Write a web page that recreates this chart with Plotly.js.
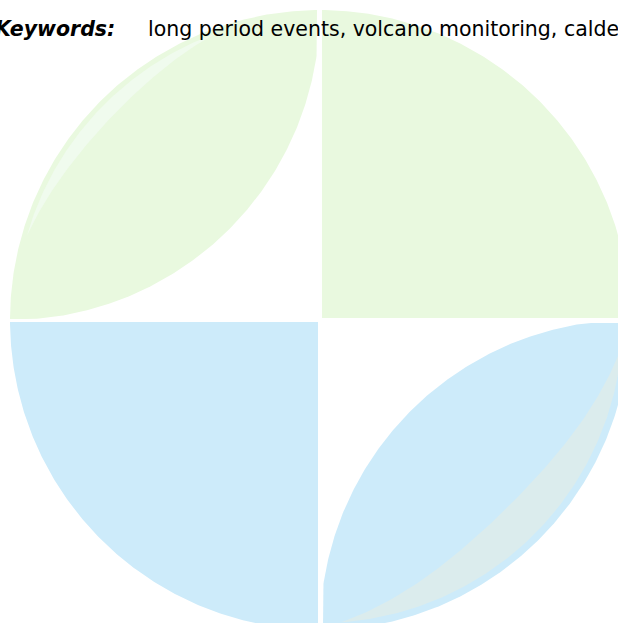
<!DOCTYPE html>
<html><head><meta charset="utf-8">
<script src="https://cdn.plot.ly/plotly-3.0.1.min.js"></script>
<style>html,body{margin:0;padding:0;background:#fff;overflow:hidden}</style>
</head><body><div id="chart" style="width:618px;height:623px"></div>
<script>
// ---- data ----
const logoParts = ['upper-right quarter', 'lower-left quarter', 'upper-left leaf', 'lower-right leaf', 'upper leaf highlight', 'lower leaf shade'];
const logoCircle = [320, 320, 310];          // centre x, centre y, radius (in chart units)
const keywordLabel = ['Keywords:'];
const keywordList = ['long period events', 'volcano monitoring', 'caldera'];

// ---- styles ----
const green = '#e9f9df', blue = '#cdebfa', greenLight = '#f0fbee', blueShade = '#dbeced';
const gap = 2;

const [cx, cy, R] = logoCircle;
function arc(x0, y0, r, a0, a1, n) {
  const xs = [], ys = [];
  for (let i = 0; i <= n; i++) {
    const a = (a0 + (a1 - a0) * i / n) * Math.PI / 180;
    xs.push(x0 + r * Math.cos(a)); ys.push(y0 + r * Math.sin(a));
  }
  return [xs, ys];
}
function clamp(xs, ys, fx, fy) { return [xs.map(fx), ys.map(fy)]; }

const traces = [];
function add(xs, ys, color, name) {
  traces.push({type: 'scatter', x: xs, y: ys, mode: 'lines', fill: 'toself', fillcolor: color,
    line: {width: 0, color: color}, hoverinfo: 'skip', name: name, showlegend: false});
}

// upper-right quarter
{
  let [xs, ys] = arc(cx, cy, R, -90, 0, 200);
  [xs, ys] = clamp(xs, ys, v => Math.max(cx + gap, v), v => Math.min(cy - gap, v));
  add([cx + gap, ...xs, cx + gap], [cy - gap, ...ys, cy - gap], green, logoParts[0]);
}
// lower-left quarter
{
  let [xs, ys] = arc(cx, cy, R, 90, 180, 200);
  [xs, ys] = clamp(xs, ys, v => Math.min(cx - gap, v), v => Math.max(cy + gap, v));
  add([cx - gap, ...xs, cx - gap], [cy + gap, ...ys, cy + gap], blue, logoParts[1]);
}
// upper-left leaf
{
  const [ox, oy] = arc(cx, cy, R, 180, 270, 200);
  const [ix, iy] = arc(cx - R, cy - R, R, 0, 90, 200);
  const [xs, ys] = clamp([...ox, ...ix], [...oy, ...iy], v => Math.min(cx - 3, v), v => Math.min(cy - 1, v));
  add(xs, ys, green, logoParts[2]);
}
// lower-right leaf
{
  const [ox, oy] = arc(cx, cy, R, 0, 90, 200);
  const [ix, iy] = arc(cx + R, cy + R, R, 180, 270, 200);
  const [xs, ys] = clamp([...ox, ...ix], [...oy, ...iy], v => Math.max(cx + 3, v), v => Math.max(cy + 3, v));
  add(xs, ys, blue, logoParts[3]);
}
// crescent helper
function crescent(a0, a1, rOut, w, color, name) {
  const n = 120, xs = [], ys = [];
  for (let i = 0; i <= n; i++) {
    const a = (a0 + (a1 - a0) * i / n) * Math.PI / 180;
    xs.push(cx + rOut * Math.cos(a)); ys.push(cy + rOut * Math.sin(a));
  }
  for (let i = n; i >= 0; i--) {
    const t = i / n, a = (a0 + (a1 - a0) * t) * Math.PI / 180;
    const r = rOut - w * Math.sin(Math.PI * t);
    xs.push(cx + r * Math.cos(a)); ys.push(cy + r * Math.sin(a));
  }
  add(xs, ys, color, name);
}
crescent(196, 250, 305, 14, greenLight, logoParts[4]);
crescent(5, 86, 303, 38, blueShade, logoParts[5]);

const layout = {
  width: 618, height: 623, margin: {l: 0, r: 0, t: 0, b: 0},
  paper_bgcolor: '#fff', plot_bgcolor: '#fff',
  xaxis: {range: [0, 618], visible: false, fixedrange: true},
  yaxis: {range: [623, 0], visible: false, fixedrange: true},
  showlegend: false,
  annotations: [
    {x: 117, y: 29, xref: 'x', yref: 'y', xanchor: 'right', yanchor: 'middle', showarrow: false,
     text: '<b><i>' + keywordLabel[0] + '</i></b>', font: {family: 'DejaVu Sans', size: 20.5, color: '#000'}},
    {x: 146, y: 29, xref: 'x', yref: 'y', xanchor: 'left', yanchor: 'middle', showarrow: false,
     text: keywordList.join(', '), font: {family: 'DejaVu Sans', size: 20.5, color: '#000'}}
  ]
};
Plotly.newPlot('chart', traces, layout, {displayModeBar: false, staticPlot: true});
</script></body></html>
